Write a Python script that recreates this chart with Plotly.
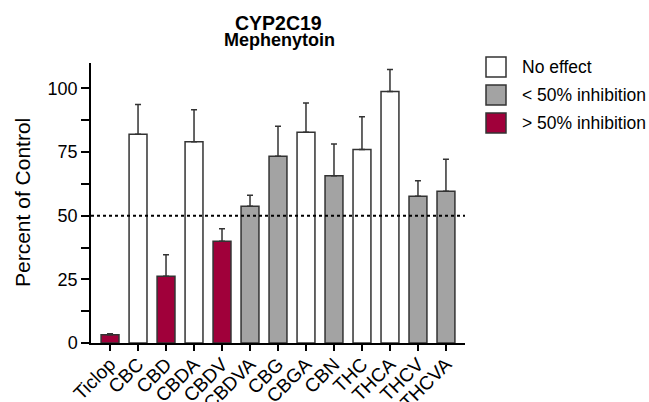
import plotly.graph_objects as go

categories = ["Ticlop", "CBC", "CBD", "CBDA", "CBDV", "CBDVA", "CBG", "CBGA",
              "CBN", "THC", "THCA", "THCV", "THCVA"]
values = [3.2, 82.0, 26.2, 79.1, 40.0, 53.7, 73.4, 82.8, 65.7, 76.0, 98.8, 57.7, 59.6]
errors = [0.4, 11.7, 8.5, 12.5, 4.9, 4.3, 11.8, 11.5, 12.5, 12.9, 8.6, 6.0, 12.6]
groups = ["strong", "none", "strong", "none", "strong", "weak", "weak", "none",
          "weak", "none", "none", "weak", "weak"]

group_labels = {"none": "No effect", "weak": "< 50% inhibition", "strong": "> 50% inhibition"}
group_colors = {"none": "#ffffff", "weak": "#a3a3a3", "strong": "#a0003a"}
legend_order = ["none", "weak", "strong"]
threshold = 50

FONT = "Liberation Sans, Arial, sans-serif"
W, H = 649, 402
L, R, T, B = 91, 184, 63, 59
PW, PH = W - L - R, H - T - B


def px(x):
    return (x - L) / PW


def py(y):
    return (H - B - y) / PH


fig = go.Figure()
fig.add_trace(go.Bar(
    x=list(range(len(categories))), y=values,
    marker=dict(color=[group_colors[g] for g in groups],
                line=dict(color="#333333", width=1.5)),
    width=0.64,
    error_y=dict(type="data", array=errors, arrayminus=[0] * len(errors),
                 symmetric=False, color="#333333", thickness=1.5, width=3),
    showlegend=False,
))

fig.add_shape(type="line", xref="paper", x0=0, x1=1, yref="y", y0=threshold, y1=threshold,
              line=dict(color="black", width=2, dash="dot"), layer="above")

# legend drawn as boxes + text
for i, g in enumerate(legend_order):
    yc = 67 + i * 28
    fig.add_shape(type="rect", xref="paper", yref="paper",
                  x0=px(486), x1=px(506), y0=py(yc + 10), y1=py(yc - 10),
                  fillcolor=group_colors[g], line=dict(color="#333333", width=1.5))
    fig.add_annotation(text=group_labels[g], xref="paper", yref="paper",
                       x=px(520), y=py(yc), xanchor="left", yanchor="middle",
                       showarrow=False, font=dict(family=FONT, size=17.5, color="black"))

# title
fig.add_annotation(text="<b>CYP2C19</b>", xref="paper", yref="paper", x=px(278), y=py(23),
                   xanchor="center", yanchor="middle", showarrow=False,
                   font=dict(family=FONT, size=19.5, color="black"))
fig.add_annotation(text="<b>Mephenytoin</b>", xref="paper", yref="paper", x=px(279), y=py(40),
                   xanchor="center", yanchor="middle", showarrow=False,
                   font=dict(family=FONT, size=18, color="black"))
# y title
fig.add_annotation(text="Percent of Control", xref="paper", yref="paper", x=px(22), y=py(203),
                   xanchor="center", yanchor="middle", textangle=-90, showarrow=False,
                   font=dict(family=FONT, size=21, color="black"))

fig.update_layout(
    width=W, height=H,
    margin=dict(l=L, r=R, t=T, b=B),
    plot_bgcolor="white", paper_bgcolor="white",
    font=dict(family=FONT, size=17, color="black"),
)
fig.update_xaxes(
    tickmode="array", tickvals=list(range(len(categories))), ticktext=categories,
    range=[-0.68, len(categories) - 1 + 0.68], tickangle=-45, automargin=False,
    showline=True, linecolor="black", linewidth=1.5, ticks="outside", ticklen=6,
    tickwidth=1.5, tickcolor="black", showgrid=False, zeroline=False,
    tickfont=dict(family=FONT, size=19), ticklabelstandoff=-5,
)
fig.update_yaxes(
    range=[0, 110], tickvals=[0, 25, 50, 75, 100], automargin=False,
    showline=True, linecolor="black", linewidth=1.5, ticks="outside", ticklen=8,
    tickwidth=1.5, tickcolor="black", showgrid=False, zeroline=False,
    minor=dict(tickvals=[12.5, 37.5, 62.5, 87.5], ticks="outside", ticklen=8,
               tickwidth=1.5, tickcolor="black", showgrid=False),
    tickfont=dict(family=FONT, size=18),
)

fig.write_html("out.html", config={"displayModeBar": False},
               post_script="document.body.style.margin='0px';document.body.style.overflow='hidden';")
